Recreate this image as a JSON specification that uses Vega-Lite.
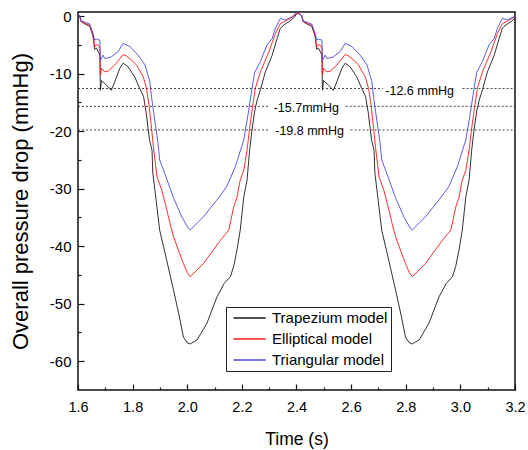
{
  "$schema": "https://vega.github.io/schema/vega-lite/v6.json",
  "width": 437,
  "height": 378,
  "autosize": "none",
  "padding": {"left": 78, "top": 12, "right": 13, "bottom": 60},
  "background": "white",
  "config": {
    "view": {"stroke": "#111", "strokeWidth": 1.5},
    "axis": {"domain": false, "grid": false, "labelFont": "Liberation Sans", "titleFont": "Liberation Sans", "labelColor": "black", "titleColor": "black", "tickColor": "#111", "tickWidth": 1.2, "titleFontWeight": "normal"}
  },
  "datasets": {
    "trap": [
      {"t":1.600,"v":0.3},{"t":1.606,"v":0.0},{"t":1.612,"v":-1.0},{"t":1.622,"v":-1.3},{"t":1.643,"v":-1.8},{"t":1.655,"v":-3.5},{"t":1.661,"v":-5.8},{"t":1.668,"v":-5.6},{"t":1.676,"v":-6.4},{"t":1.680,"v":-6.8},{"t":1.682,"v":-12.9},{"t":1.686,"v":-11.2},{"t":1.690,"v":-11.4},{"t":1.704,"v":-12.0},{"t":1.722,"v":-12.9},{"t":1.735,"v":-11.4},{"t":1.753,"v":-9.1},{"t":1.765,"v":-8.2},{"t":1.783,"v":-8.8},{"t":1.808,"v":-10.6},{"t":1.826,"v":-12.6},{"t":1.840,"v":-14.0},{"t":1.850,"v":-16.9},{"t":1.862,"v":-21.6},{"t":1.871,"v":-23.3},{"t":1.874,"v":-27.3},{"t":1.886,"v":-32.0},{"t":1.899,"v":-37.2},{"t":1.925,"v":-42.5},{"t":1.950,"v":-47.7},{"t":1.970,"v":-52.0},{"t":1.986,"v":-55.8},{"t":2.000,"v":-56.8},{"t":2.011,"v":-57.0},{"t":2.025,"v":-56.6},{"t":2.036,"v":-56.3},{"t":2.072,"v":-53.4},{"t":2.109,"v":-48.8},{"t":2.135,"v":-46.5},{"t":2.158,"v":-45.3},{"t":2.170,"v":-43.5},{"t":2.182,"v":-40.7},{"t":2.194,"v":-37.2},{"t":2.207,"v":-31.4},{"t":2.219,"v":-28.5},{"t":2.228,"v":-23.5},{"t":2.237,"v":-19.8},{"t":2.247,"v":-16.5},{"t":2.256,"v":-14.6},{"t":2.268,"v":-12.8},{"t":2.286,"v":-9.7},{"t":2.311,"v":-6.8},{"t":2.329,"v":-3.9},{"t":2.341,"v":-2.1},{"t":2.358,"v":-1.4},{"t":2.372,"v":-1.0},{"t":2.390,"v":-0.3},{"t":2.403,"v":0.5},
      {"t":2.413,"v":0.3},{"t":2.419,"v":0.0},{"t":2.425,"v":-1.0},{"t":2.435,"v":-1.3},{"t":2.456,"v":-1.8},{"t":2.468,"v":-3.5},{"t":2.474,"v":-5.8},{"t":2.481,"v":-5.6},{"t":2.489,"v":-6.4},{"t":2.493,"v":-6.8},{"t":2.495,"v":-12.9},{"t":2.499,"v":-11.2},{"t":2.503,"v":-11.4},{"t":2.517,"v":-12.0},{"t":2.535,"v":-12.9},{"t":2.548,"v":-11.4},{"t":2.566,"v":-9.1},{"t":2.578,"v":-8.2},{"t":2.596,"v":-8.8},{"t":2.621,"v":-10.6},{"t":2.639,"v":-12.6},{"t":2.653,"v":-14.0},{"t":2.663,"v":-16.9},{"t":2.675,"v":-21.6},{"t":2.684,"v":-23.3},{"t":2.687,"v":-27.3},{"t":2.699,"v":-32.0},{"t":2.712,"v":-37.2},{"t":2.738,"v":-42.5},{"t":2.763,"v":-47.7},{"t":2.783,"v":-52.0},{"t":2.799,"v":-55.8},{"t":2.813,"v":-56.8},{"t":2.824,"v":-57.0},{"t":2.838,"v":-56.6},{"t":2.849,"v":-56.3},{"t":2.885,"v":-53.4},{"t":2.922,"v":-48.8},{"t":2.948,"v":-46.5},{"t":2.971,"v":-45.3},{"t":2.983,"v":-43.5},{"t":2.995,"v":-40.7},{"t":3.007,"v":-37.2},{"t":3.020,"v":-31.4},{"t":3.032,"v":-28.5},{"t":3.041,"v":-23.5},{"t":3.050,"v":-19.8},{"t":3.060,"v":-16.5},{"t":3.069,"v":-14.6},{"t":3.081,"v":-12.8},{"t":3.099,"v":-9.7},{"t":3.124,"v":-6.8},{"t":3.142,"v":-3.9},{"t":3.154,"v":-2.1},{"t":3.171,"v":-1.4},{"t":3.185,"v":-1.0},{"t":3.203,"v":-0.3},{"t":3.216,"v":0.5}
    ],
    "ell": [
      {"t":1.600,"v":0.3},{"t":1.606,"v":0.0},{"t":1.612,"v":-1.0},{"t":1.622,"v":-1.2},{"t":1.643,"v":-1.6},{"t":1.655,"v":-3.3},{"t":1.661,"v":-5.4},{"t":1.667,"v":-5.0},{"t":1.673,"v":-5.0},{"t":1.680,"v":-5.6},{"t":1.682,"v":-10.3},{"t":1.686,"v":-9.1},{"t":1.698,"v":-9.7},{"t":1.710,"v":-9.6},{"t":1.735,"v":-8.5},{"t":1.765,"v":-6.7},{"t":1.776,"v":-6.9},{"t":1.795,"v":-7.6},{"t":1.814,"v":-8.5},{"t":1.839,"v":-10.6},{"t":1.851,"v":-12.6},{"t":1.860,"v":-15.5},{"t":1.870,"v":-19.8},{"t":1.876,"v":-22.7},{"t":1.889,"v":-27.9},{"t":1.907,"v":-30.3},{"t":1.925,"v":-33.7},{"t":1.943,"v":-37.2},{"t":1.950,"v":-38.4},{"t":1.970,"v":-41.0},{"t":1.986,"v":-43.0},{"t":2.000,"v":-44.6},{"t":2.011,"v":-45.3},{"t":2.035,"v":-44.2},{"t":2.060,"v":-43.0},{"t":2.090,"v":-41.0},{"t":2.121,"v":-39.0},{"t":2.152,"v":-37.2},{"t":2.170,"v":-33.2},{"t":2.182,"v":-31.5},{"t":2.194,"v":-28.5},{"t":2.207,"v":-26.8},{"t":2.219,"v":-23.3},{"t":2.227,"v":-20.0},{"t":2.237,"v":-16.5},{"t":2.249,"v":-12.6},{"t":2.268,"v":-9.7},{"t":2.299,"v":-6.2},{"t":2.323,"v":-3.0},{"t":2.341,"v":-1.3},{"t":2.366,"v":-0.7},{"t":2.385,"v":-0.2},{"t":2.403,"v":0.5},
      {"t":2.413,"v":0.3},{"t":2.419,"v":0.0},{"t":2.425,"v":-1.0},{"t":2.435,"v":-1.2},{"t":2.456,"v":-1.6},{"t":2.468,"v":-3.3},{"t":2.474,"v":-5.4},{"t":2.480,"v":-5.0},{"t":2.486,"v":-5.0},{"t":2.493,"v":-5.6},{"t":2.495,"v":-10.3},{"t":2.499,"v":-9.1},{"t":2.511,"v":-9.7},{"t":2.523,"v":-9.6},{"t":2.548,"v":-8.5},{"t":2.578,"v":-6.7},{"t":2.589,"v":-6.9},{"t":2.608,"v":-7.6},{"t":2.627,"v":-8.5},{"t":2.652,"v":-10.6},{"t":2.664,"v":-12.6},{"t":2.673,"v":-15.5},{"t":2.683,"v":-19.8},{"t":2.689,"v":-22.7},{"t":2.702,"v":-27.9},{"t":2.720,"v":-30.3},{"t":2.738,"v":-33.7},{"t":2.756,"v":-37.2},{"t":2.763,"v":-38.4},{"t":2.783,"v":-41.0},{"t":2.799,"v":-43.0},{"t":2.813,"v":-44.6},{"t":2.824,"v":-45.3},{"t":2.848,"v":-44.2},{"t":2.873,"v":-43.0},{"t":2.903,"v":-41.0},{"t":2.934,"v":-39.0},{"t":2.965,"v":-37.2},{"t":2.983,"v":-33.2},{"t":2.995,"v":-31.5},{"t":3.007,"v":-28.5},{"t":3.020,"v":-26.8},{"t":3.032,"v":-23.3},{"t":3.040,"v":-20.0},{"t":3.050,"v":-16.5},{"t":3.062,"v":-12.6},{"t":3.081,"v":-9.7},{"t":3.112,"v":-6.2},{"t":3.136,"v":-3.0},{"t":3.154,"v":-1.3},{"t":3.179,"v":-0.7},{"t":3.198,"v":-0.2},{"t":3.216,"v":0.5}
    ],
    "tri": [
      {"t":1.600,"v":0.3},{"t":1.606,"v":0.0},{"t":1.612,"v":-0.9},{"t":1.622,"v":-1.0},{"t":1.643,"v":-1.4},{"t":1.655,"v":-3.0},{"t":1.661,"v":-4.2},{"t":1.667,"v":-4.0},{"t":1.680,"v":-4.2},{"t":1.682,"v":-7.7},{"t":1.692,"v":-6.8},{"t":1.698,"v":-7.4},{"t":1.722,"v":-7.1},{"t":1.747,"v":-6.2},{"t":1.765,"v":-4.75},{"t":1.790,"v":-5.3},{"t":1.820,"v":-6.8},{"t":1.845,"v":-8.5},{"t":1.863,"v":-11.4},{"t":1.869,"v":-14.0},{"t":1.881,"v":-18.1},{"t":1.893,"v":-22.1},{"t":1.899,"v":-25.0},{"t":1.918,"v":-27.4},{"t":1.948,"v":-31.4},{"t":1.980,"v":-34.9},{"t":2.004,"v":-36.9},{"t":2.011,"v":-37.2},{"t":2.017,"v":-36.9},{"t":2.059,"v":-34.9},{"t":2.108,"v":-32.0},{"t":2.144,"v":-29.7},{"t":2.176,"v":-26.2},{"t":2.207,"v":-21.5},{"t":2.223,"v":-17.0},{"t":2.237,"v":-12.6},{"t":2.247,"v":-9.8},{"t":2.268,"v":-7.9},{"t":2.292,"v":-5.0},{"t":2.311,"v":-3.9},{"t":2.323,"v":-2.1},{"t":2.341,"v":-0.4},{"t":2.359,"v":-0.7},{"t":2.384,"v":-0.1},{"t":2.403,"v":0.75},
      {"t":2.413,"v":0.3},{"t":2.419,"v":0.0},{"t":2.425,"v":-0.9},{"t":2.435,"v":-1.0},{"t":2.456,"v":-1.4},{"t":2.468,"v":-3.0},{"t":2.474,"v":-4.2},{"t":2.480,"v":-4.0},{"t":2.493,"v":-4.2},{"t":2.495,"v":-7.7},{"t":2.505,"v":-6.8},{"t":2.511,"v":-7.4},{"t":2.535,"v":-7.1},{"t":2.560,"v":-6.2},{"t":2.578,"v":-4.75},{"t":2.603,"v":-5.3},{"t":2.633,"v":-6.8},{"t":2.658,"v":-8.5},{"t":2.676,"v":-11.4},{"t":2.682,"v":-14.0},{"t":2.694,"v":-18.1},{"t":2.706,"v":-22.1},{"t":2.712,"v":-25.0},{"t":2.731,"v":-27.4},{"t":2.761,"v":-31.4},{"t":2.793,"v":-34.9},{"t":2.817,"v":-36.9},{"t":2.824,"v":-37.2},{"t":2.830,"v":-36.9},{"t":2.872,"v":-34.9},{"t":2.921,"v":-32.0},{"t":2.957,"v":-29.7},{"t":2.989,"v":-26.2},{"t":3.020,"v":-21.5},{"t":3.036,"v":-17.0},{"t":3.050,"v":-12.6},{"t":3.060,"v":-9.8},{"t":3.081,"v":-7.9},{"t":3.105,"v":-5.0},{"t":3.124,"v":-3.9},{"t":3.136,"v":-2.1},{"t":3.154,"v":-0.4},{"t":3.172,"v":-0.7},{"t":3.197,"v":-0.1},{"t":3.216,"v":0.75}
    ],
    "refs": [
      {"t":1.6,"t2":2.716,"v":-12.6},{"t":3.008,"t2":3.2,"v":-12.6},
      {"t":1.6,"t2":2.297,"v":-15.7},{"t":2.58,"t2":3.2,"v":-15.7},
      {"t":1.6,"t2":2.297,"v":-19.8},{"t":2.598,"t2":3.195,"v":-19.8}
    ],
    "notes": [
      {"t":2.851,"v":-13.0,"label":"-12.6 mmHg"},
      {"t":2.436,"v":-15.9,"label":"-15.7mmHg"},
      {"t":2.448,"v":-20.0,"label":"-19.8 mmHg"}
    ]
  },
  "encoding": {
    "x": {
      "field": "t", "type": "quantitative",
      "scale": {"domain": [1.6, 3.2], "nice": false, "zero": false},
      "axis": {
        "title": "Time (s)",
        "values": [1.6,1.7,1.8,1.9,2.0,2.1,2.2,2.3,2.4,2.5,2.6,2.7,2.8,2.9,3.0,3.1,3.2],
        "labelExpr": "abs(datum.value*5 - round(datum.value*5)) < 0.001 ? format(datum.value, '.1f') : ''",
        "tickSize": {"condition": {"test": "abs(datum.value*5 - round(datum.value*5)) < 0.001", "value": -6}, "value": -3},
        "labelPadding": 16, "labelFontSize": 14.5, "labelFlush": false, "labelOverlap": false,
        "titleFontSize": 17.5, "titlePadding": 14
      }
    },
    "y": {
      "field": "v", "type": "quantitative",
      "scale": {"domain": [-65, 0.7], "nice": false, "zero": false},
      "axis": {
        "title": "Overall pressure drop (mmHg)",
        "values": [-60,-55,-50,-45,-40,-35,-30,-25,-20,-15,-10,-5,0],
        "labelExpr": "datum.value % 10 == 0 ? (datum.value < 0 ? '-' + abs(datum.value) : '' + datum.value) : ''",
        "tickSize": {"condition": {"test": "datum.value % 10 == 0", "value": -6}, "value": -3},
        "labelPadding": 13, "labelFontSize": 15, "labelFlush": false, "labelOverlap": false,
        "titleFontSize": 22, "titlePadding": 17
      }
    }
  },
  "layer": [
    {
      "data": {"name": "trap"},
      "mark": {"type": "line", "strokeWidth": 0.9, "clip": true},
      "encoding": {
        "color": {
          "datum": "Trapezium model", "type": "nominal",
          "scale": {"domain": ["Trapezium model", "Elliptical model", "Triangular model"], "range": ["#1a1a1a", "#ff1a1a", "#4a4ae0"]},
          "legend": {
            "title": null, "orient": "none", "legendX": 148, "legendY": 295,
            "symbolType": "M-0.5,0L4.1,0", "symbolSize": 196, "symbolStrokeWidth": 1.3,
            "labelFont": "Liberation Sans", "labelFontSize": 15, "labelColor": "black", "labelOffset": 27,
            "strokeColor": "#222", "fillColor": "white", "padding": 3, "rowPadding": 5,
            "encode": {"symbols": {"update": {"stroke": {"scale": "color", "field": "value"}, "fill": {"value": "transparent"}, "strokeWidth": {"value": 1.3}, "opacity": {"value": 1}}}}
          }
        }
      }
    },
    {
      "data": {"name": "ell"},
      "mark": {"type": "line", "strokeWidth": 0.9, "clip": true},
      "encoding": {"color": {"datum": "Elliptical model", "type": "nominal"}}
    },
    {
      "data": {"name": "tri"},
      "mark": {"type": "line", "strokeWidth": 0.9, "clip": true},
      "encoding": {"color": {"datum": "Triangular model", "type": "nominal"}}
    },
    {
      "data": {"name": "refs"},
      "mark": {"type": "rule", "strokeDash": [2, 2], "color": "#444", "strokeWidth": 1},
      "encoding": {"x2": {"field": "t2"}}
    },
    {
      "data": {"name": "notes"},
      "mark": {"type": "text", "font": "Liberation Sans", "fontSize": 12.5, "color": "black", "align": "center", "baseline": "middle"},
      "encoding": {"text": {"field": "label"}}
    }
  ]
}
